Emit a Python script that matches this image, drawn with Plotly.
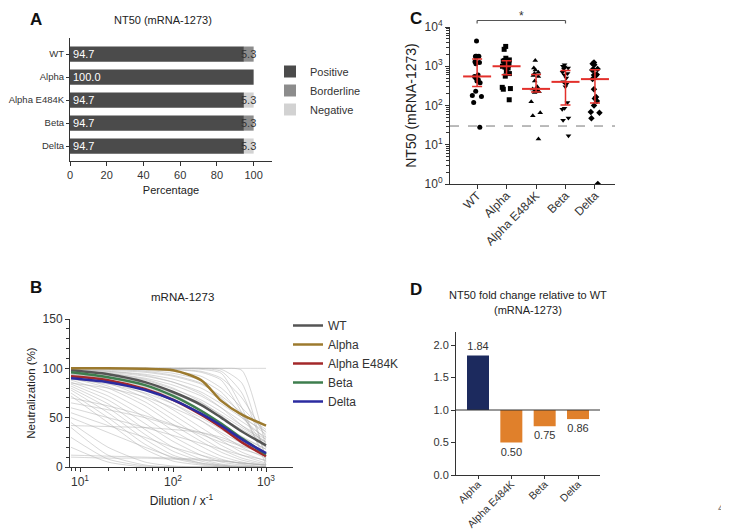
import numpy as np
import plotly.graph_objects as go

W, H = 729, 529
FONT = "Arial, Liberation Sans, sans-serif"
AX = "#333333"
RED = "#e3302b"

# ---------------- Panel A data ----------------
variants = ["WT", "Alpha", "Alpha E484K", "Beta", "Delta"]
pct_positive = [94.7, 100.0, 94.7, 94.7, 94.7]
pct_borderline = [5.3, 0.0, 0.0, 5.3, 0.0]
pct_negative = [0.0, 0.0, 5.3, 0.0, 5.3]

# ---------------- Panel B data ----------------
dilutions = [8, 20, 50, 100, 200, 330, 550, 1000]
curve_wt = [98, 94, 86, 76, 63, 50, 36, 22]
curve_alpha = [100, 100, 99.5, 98, 88, 67, 53, 42]
curve_alpha_e484k = [92, 88, 79, 68, 53, 40, 25, 11]
curve_beta = [96, 91, 83, 72, 57, 44, 29, 13]
curve_delta = [90, 86, 78, 68, 54, 42, 28, 14]
grey_curves = [
    [100, 100, 100, 100, 100, 100, 100, 100],
    [100, 100, 100, 100, 100, 99, 85, 5],
    [100, 100, 100, 100, 99, 95, 60, 2],
    [100, 100, 100, 99, 97, 90, 70, 30],
    [100, 100, 99, 97, 92, 80, 60, 35],
    [100, 99, 97, 93, 85, 70, 50, 28],
    [99, 97, 93, 86, 74, 60, 42, 25],
    [98, 95, 89, 80, 66, 52, 36, 20],
    [97, 93, 85, 74, 58, 43, 28, 14],
    [96, 91, 82, 70, 54, 40, 26, 12],
    [95, 89, 78, 64, 47, 33, 20, 9],
    [94, 87, 74, 58, 40, 27, 15, 6],
    [93, 85, 70, 53, 35, 22, 12, 4],
    [92, 82, 66, 48, 30, 18, 9, 3],
    [90, 80, 62, 43, 26, 15, 7, 2],
    [88, 76, 56, 37, 21, 11, 5, 1],
    [86, 72, 50, 31, 16, 8, 3, 0],
    [84, 68, 44, 26, 12, 5, 2, 0],
    [82, 64, 38, 20, 8, 3, 1, 0],
    [80, 60, 33, 16, 6, 2, 0, 0],
    [78, 55, 28, 12, 4, 1, 0, 0],
    [75, 50, 23, 9, 3, 1, 0, 0],
    [72, 45, 18, 6, 2, 0, 0, 0],
    [70, 62, 52, 43, 33, 25, 18, 11],
    [65, 58, 50, 42, 35, 28, 21, 14],
    [60, 50, 40, 32, 24, 18, 12, 7],
    [55, 42, 30, 20, 12, 7, 4, 2],
    [50, 35, 20, 10, 4, 2, 0, 0],
    [45, 20, 5, 1, 0, 0, 0, 0],
    [40, 12, 2, 0, 0, 0, 0, 0],
    [42, 41, 40, 38, 35, 30, 22, 14],
    [12, 11, 10, 9, 8, 6, 4, 2],
    [10, 9, 9, 8, 7, 6, 4, 2],
    [100, 100, 100, 100, 100, 100, 98, 20],
    [100, 100, 100, 100, 100, 97, 75, 10],
    [100, 100, 100, 99, 96, 88, 55, 8],
    [100, 99, 98, 95, 88, 76, 52, 20],
    [99, 98, 96, 92, 84, 72, 55, 38],
    [98, 96, 92, 86, 76, 64, 50, 36],
    [97, 94, 88, 79, 68, 56, 42, 28],
    [96, 92, 85, 75, 62, 50, 38, 25],
    [95, 90, 81, 69, 55, 42, 30, 18],
    [99, 97, 94, 89, 80, 68, 52, 33],
    [97, 95, 90, 83, 72, 60, 46, 30],
    [94, 90, 84, 76, 65, 53, 40, 26],
    [91, 86, 78, 68, 55, 43, 31, 18],
    [89, 84, 75, 64, 50, 38, 26, 15],
    [85, 80, 71, 60, 47, 35, 24, 13],
    [30, 8, 1, 0, 0, 0, 0, 0],
    [20, 5, 0, 0, 0, 0, 0, 0],
]

# ---------------- Panel C data ----------------
nt50_wt = [4400, 1800, 1800, 1800, 1750, 1300, 1250, 1150, 600, 550,
           500, 450, 420, 380, 230, 180, 170, 120, 28]
nt50_alpha = [3200, 2700, 1600, 1450, 1400, 1350, 1200, 1100, 1050, 1000,
              950, 900, 750, 650, 560, 290, 270, 260, 140]
nt50_alpha_e484k = [1400, 900, 800, 700, 650, 580, 550, 420, 300, 265,
                    240, 235, 230, 225, 215, 125, 65, 55, 14]
nt50_beta = [1100, 1000, 950, 900, 850, 700, 650, 600, 500, 400,
             380, 350, 300, 120, 85, 80, 48, 42, 17]
nt50_delta = [1250, 1100, 1150, 850, 830, 800, 600, 580, 620, 470,
              260, 165, 150, 130, 100, 68, 65, 47, 1]
limit_of_detection = 30

# ---------------- Panel D data ----------------
fold_variants = ["Alpha", "Alpha E484K", "Beta", "Delta"]
fold_change = [1.84, 0.50, 0.75, 0.86]


def dx(a, b):
    return [a / W, b / W]


def dy(top, bottom):
    return [1 - bottom / H, 1 - top / H]


fig = go.Figure()

# ---- Panel A: stacked horizontal bars (overlay with explicit base) ----
base_border = pct_positive
base_neg = [p + b for p, b in zip(pct_positive, pct_borderline)]
fig.add_trace(go.Bar(
    y=variants, x=pct_positive, base=[0] * 5, orientation="h", name="Positive",
    marker=dict(color="#4b4b4b", line=dict(width=0)), width=0.66,
    text=[f"{v:.1f}" for v in pct_positive], textposition="inside",
    insidetextanchor="start", textfont=dict(color="white", size=11, family=FONT),
    xaxis="x", yaxis="y", legend="legend"))
fig.add_trace(go.Bar(
    y=variants, x=pct_borderline, base=base_border, orientation="h", name="Borderline",
    marker=dict(color="#8c8c8c", line=dict(width=0)), width=0.66,
    xaxis="x", yaxis="y", legend="legend"))
fig.add_trace(go.Bar(
    y=variants, x=pct_negative, base=base_neg, orientation="h", name="Negative",
    marker=dict(color="#d2d2d2", line=dict(width=0)), width=0.66,
    xaxis="x", yaxis="y", legend="legend"))

annotations = []
for v, p, b, n in zip(variants, pct_positive, pct_borderline, pct_negative):
    small = b if b > 0 else n
    if small > 0:
        annotations.append(dict(x=p + small / 2, y=v, xref="x", yref="y", text=f"{small:.1f}",
                                showarrow=False, font=dict(size=11, color="#333", family=FONT)))

# ---- Panel B: neutralization curves ----
for gc in grey_curves:
    fig.add_trace(go.Scatter(
        x=dilutions, y=gc, mode="lines", line=dict(color="rgba(175,175,175,0.5)", width=1,
                                                   shape="spline", smoothing=0.6),
        showlegend=False, hoverinfo="skip", xaxis="x2", yaxis="y2"))
mean_curves = [("WT", curve_wt, "#555555"), ("Alpha", curve_alpha, "#9c7a2e"),
               ("Alpha E484K", curve_alpha_e484k, "#a3282a"), ("Beta", curve_beta, "#3e7e4e"),
               ("Delta", curve_delta, "#2b2ba0")]
for name, ys, col in mean_curves:
    fig.add_trace(go.Scatter(
        x=dilutions, y=ys, mode="lines", name=name,
        line=dict(color=col, width=2.5, shape="spline", smoothing=0.8),
        xaxis="x2", yaxis="y2", legend="legend2"))

# ---- Panel C: NT50 dot plot ----
groups = [nt50_wt, nt50_alpha, nt50_alpha_e484k, nt50_beta, nt50_delta]
symbols = ["circle", "square", "triangle-up", "triangle-down", "diamond"]
for name, vals, sym in zip(variants, groups, symbols):
    fig.add_trace(go.Box(
        x=[name] * len(vals), y=vals, boxpoints="all", jitter=0.65, pointpos=0, width=0.6,
        fillcolor="rgba(0,0,0,0)", line=dict(color="rgba(0,0,0,0)", width=0),
        marker=dict(symbol=sym, size=5, color="black", line=dict(width=0)),
        showlegend=False, xaxis="x3", yaxis="y3"))
meds = np.array([np.median(g) for g in groups])
q1 = np.array([np.percentile(g, 25) for g in groups])
q3 = np.array([np.percentile(g, 75) for g in groups])
fig.add_trace(go.Scatter(
    x=variants, y=meds, mode="markers",
    marker=dict(symbol="line-ew", size=20, line=dict(color=RED, width=2)),
    error_y=dict(type="data", symmetric=False, array=q3 - meds, arrayminus=meds - q1,
                 color=RED, thickness=1.5, width=5),
    showlegend=False, xaxis="x3", yaxis="y3"))

# ---- Panel D: fold change ----
fig.add_trace(go.Bar(
    x=fold_variants, y=[v - 1 for v in fold_change], base=1,
    marker=dict(color=["#1c2a5e", "#e0802b", "#e0802b", "#e0802b"], line=dict(width=0)),
    width=0.66, text=[f"{v:.2f}" for v in fold_change], textposition="outside",
    textfont=dict(size=11, color="#333", family=FONT), cliponaxis=False,
    showlegend=False, xaxis="x4", yaxis="y4"))

tickfont = dict(size=11, color="#333", family=FONT)
common = dict(showline=True, linecolor=AX, linewidth=1, ticks="outside", ticklen=4,
              tickcolor=AX, showgrid=False, zeroline=False, tickfont=tickfont,
              automargin=False)

minor_b = [8, 9] + [k * 10 for k in range(2, 10)] + [k * 100 for k in range(2, 10)]
minor_c = [k * 10 ** e for e in range(0, 4) for k in range(2, 10)]
font12 = dict(size=12, color="#333", family=FONT)

fig.update_layout(
    width=W, height=H, margin=dict(l=0, r=0, t=0, b=0, autoexpand=False),
    paper_bgcolor="white", plot_bgcolor="white", barmode="overlay",
    font=dict(family=FONT, color="#222"),
    uniformtext=dict(minsize=11, mode="show"),
    # A
    xaxis=dict(domain=dx(62, 264), anchor="y", range=[0, 110], tickvals=[0, 20, 40, 60, 80, 100],
               title=dict(text="Percentage", font=dict(size=11), standoff=6), **common),
    yaxis=dict(domain=dy(30, 153), anchor="x", type="category", categoryarray=variants,
               range=[4.65, -0.7],
               **{**common, "ticklen": 3, "tickfont": dict(size=9.5, color="#333", family=FONT)}),
    # B
    xaxis2=dict(domain=dx(62, 285), anchor="y2", type="log",
                range=[np.log10(7.8), np.log10(1950)], tickvals=[10, 100, 1000],
                ticktext=["10<sup>1</sup>", "10<sup>2</sup>", "10<sup>3</sup>"],
                minor=dict(tickvals=minor_b, ticks="outside", ticklen=3, tickcolor=AX),
                title=dict(text="Dilution / x<sup>-1</sup>", font=dict(size=12), standoff=8),
                **{**common, "tickfont": font12}),
    yaxis2=dict(domain=dy(311, 459), anchor="x2", range=[0, 150], tickvals=[0, 50, 100, 150],
                minor=dict(dtick=10, ticks="outside", ticklen=3, tickcolor=AX),
                title=dict(text="Neutralization (%)", font=dict(size=11.5), standoff=4),
                **{**common, "tickfont": font12}),
    # C
    xaxis3=dict(domain=dx(442, 607), anchor="y3", type="category", categoryarray=variants,
                range=[-0.92, 4.68], tickangle=-45, ticklabelstandoff=-5,
                **{**common, "tickfont": font12}),
    yaxis3=dict(domain=dy(19, 176), anchor="x3", type="log", range=[0, 4],
                tickvals=[1, 10, 100, 1000, 10000],
                ticktext=["10<sup>0</sup>", "10<sup>1</sup>", "10<sup>2</sup>", "10<sup>3</sup>", "10<sup>4</sup>"],
                minor=dict(tickvals=minor_c, ticks="outside", ticklen=3, tickcolor=AX),
                title=dict(text="NT50 (mRNA-1273)", font=dict(size=14), standoff=4),
                **{**common, "tickfont": font12}),
    # D
    xaxis4=dict(domain=dx(448, 592), anchor="y4", type="category", categoryarray=fold_variants,
                range=[-0.66, 3.66], tickangle=-45, ticklabelstandoff=-5,
                **{**common, "ticklen": 3, "tickfont": dict(size=10.5, color="#333", family=FONT)}),
    yaxis4=dict(domain=dy(324, 467), anchor="x4", range=[0, 2.2],
                tickvals=[0, 0.5, 1.0, 1.5, 2.0], tickformat=".1f", **common),
    legend=dict(x=262 / W, y=1 - 49 / H, xanchor="left", yanchor="top",
                font=dict(size=11, color="#333"), bgcolor="rgba(0,0,0,0)", traceorder="normal",
                itemwidth=30),
    legend2=dict(x=280 / W, y=1 - 303 / H, xanchor="left", yanchor="top",
                 font=dict(size=12, color="#333"), bgcolor="rgba(0,0,0,0)", traceorder="normal",
                 itemwidth=30),
)

# Titles, panel letters and other text
texts = [
    ("NT50 (mRNA-1273)", 155, 12, 11, False),
    ("mRNA-1273", 174, 289, 11.5, False),
    ("NT50 fold change relative to WT", 520, 287, 11, False),
    ("(mRNA-1273)", 520, 302, 11, False),
    ("A", 28, 12, 17, True),
    ("B", 28, 279, 17, True),
    ("C", 408, 11, 17, True),
    ("D", 408, 281, 17, True),
]
for t, x, y, s, bold in texts:
    annotations.append(dict(x=x / W, y=1 - y / H, xref="paper", yref="paper",
                            text=f"<b>{t}</b>" if bold else t, showarrow=False,
                            font=dict(size=s, color="#111" if bold else "#222", family=FONT),
                            xanchor="center", yanchor="middle"))
annotations.append(dict(x=1.5, y=1 - 7.5 / H, xref="x3", yref="paper", text="*", showarrow=False,
                        font=dict(size=12, color="#333", family=FONT), yanchor="middle"))
annotations.append(dict(x=719 / W, y=1 - 509 / H, xref="paper", yref="paper", text="4",
                        showarrow=False, font=dict(size=13, color="#888", family=FONT)))
fig.update_layout(annotations=annotations)

shapes = [
    # LOD line in C
    dict(type="line", xref="x3 domain", x0=0, x1=1, yref="y3", y0=limit_of_detection,
         y1=limit_of_detection, line=dict(color="#777", width=1, dash="dash"), layer="below"),
    # significance bracket WT vs Beta
    dict(type="line", xref="x3", x0=0, x1=3, yref="paper", y0=1 - 12.5 / H, y1=1 - 12.5 / H,
         line=dict(color="#555", width=1.2)),
    dict(type="line", xref="x3", x0=0, x1=0, yref="paper", y0=1 - 12.5 / H, y1=1 - 15.5 / H,
         line=dict(color="#555", width=1.2)),
    dict(type="line", xref="x3", x0=3, x1=3, yref="paper", y0=1 - 12.5 / H, y1=1 - 15.5 / H,
         line=dict(color="#555", width=1.2)),
    # baseline at 1 in D
    dict(type="line", xref="x4 domain", x0=0, x1=1, yref="y4", y0=1, y1=1,
         line=dict(color=AX, width=1)),
]
fig.update_layout(shapes=shapes)

fig.write_html("out.html")
